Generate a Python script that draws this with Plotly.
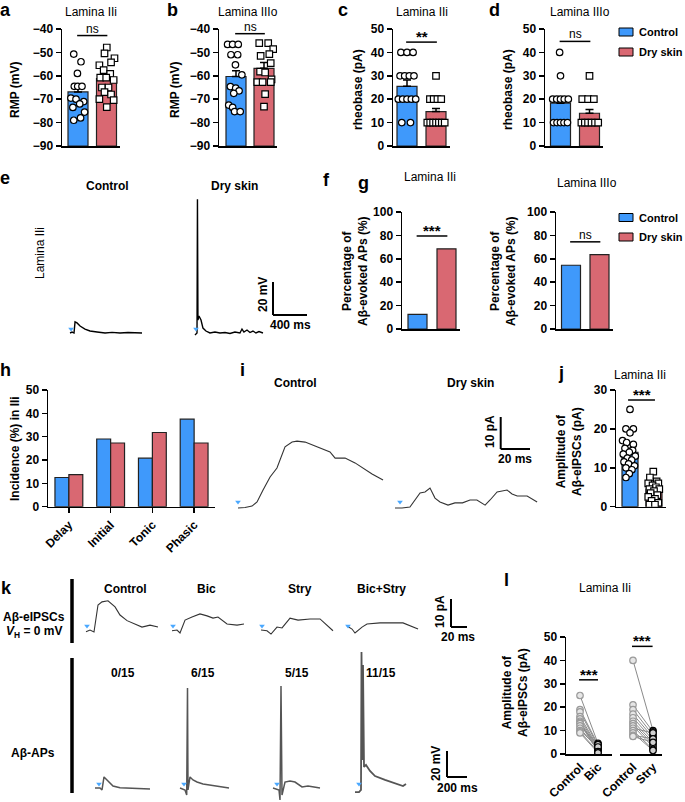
import plotly.graph_objects as go

FONT = "Liberation Sans, Arial, Helvetica, sans-serif"
W, H = 685, 802
BLUE, RED = "#3f99fb", "#d96872"
COLORS = [BLUE, RED]
EDGE = "#222222"

# ---------------- data ----------------
groups = ["Control", "Dry skin"]

# a: RMP lamina IIi
a_means = [-66.9, -61.2]
a_sem = [2.0, 2.0]
a_ctrl = [-50.7, -54, -59, -64.5, -64.5, -64.5, -69.5, -70, -71, -72, -73.5, -75.5, -78, -79]
a_ctrl_jit = [-0.15, 0.105, -0.02, -0.13, -0.01, 0.14, -0.25, -0.07, 0.2, 0.06, -0.18, 0.23, 0.09, -0.15]
a_dry = [-47.9, -50.4, -52.5, -54.3, -55.5, -57.6, -59.2, -60.8, -60.8, -61.8, -65, -65, -67, -68, -70, -70.4, -73.4]
a_dry_jit = [0.01, -0.07, 0.28, 0.16, -0.25, -0.1, 0.13, -0.22, -0.01, 0.25, -0.16, 0.07, -0.07, 0.16, -0.25, 0.25, 0.01]

# b: RMP lamina IIIo
b_means = [-60.3, -56.8]
b_sem = [2.5, 2.5]
b_ctrl = [-46.6, -46.6, -46.6, -51, -51, -55.3, -59.6, -64.6, -65.3, -66.4, -67.5, -72.5, -73.5, -75.3, -75.3]
b_ctrl_jit = [-0.3, -0.12, 0.08, -0.18, 0.06, -0.02, 0.21, -0.2, -0.01, 0.11, -0.08, -0.26, -0.12, -0.05, 0.15]
b_dry = [-46, -46, -48.6, -50.7, -51.5, -54.6, -58.2, -58.6, -61.5, -62.7, -62.7, -62.7, -67.8, -73.2]
b_dry_jit = [-0.17, 0.15, 0.33, 0.19, -0.12, 0.24, -0.14, 0.04, 0.27, -0.24, -0.05, 0.24, 0.04, 0]

# c: rheobase lamina IIi
c_means = [25.5, 14.7]
c_sem = [2.7, 1.3]
c_ctrl = [40, 40, 40, 30, 30, 30, 30, 20, 20, 20, 20, 20, 10, 10]
c_ctrl_jit = [-0.21, 0, 0.21, -0.24, -0.08, 0.08, 0.24, -0.3, -0.15, 0, 0.15, 0.3, -0.18, 0.12]
c_dry = [30, 20, 20, 20, 20, 10, 10, 10, 10, 10, 10, 10]
c_dry_jit = [0, -0.21, -0.08, 0.05, 0.18, -0.3, -0.2, -0.1, 0, 0.1, 0.2, 0.3]

# d: rheobase lamina IIIo
d_means = [18.3, 14.0]
d_sem = [1.7, 1.6]
d_ctrl = [40, 30, 20, 20, 20, 20, 20, 10, 10, 10, 10, 10]
d_ctrl_jit = [-0.03, 0, -0.27, -0.13, 0, 0.13, 0.27, -0.24, -0.12, 0, 0.12, 0.24]
d_dry = [30, 20, 20, 20, 10, 10, 10, 10, 10, 10]
d_dry_jit = [0, -0.25, -0.05, 0.15, -0.28, -0.16, -0.05, 0.07, 0.19, 0.3]

# f, g: percentage of Abeta-evoked APs
f_vals = [12.5, 68.5]
g_vals = [54.5, 63.5]

# h: firing patterns
h_cats = ["Delay", "Initial", "Tonic", "Phasic"]
h_ctrl = [12.5, 29.0, 20.8, 37.5]
h_dry = [13.7, 27.3, 31.8, 27.3]

# j: eIPSC amplitude
j_means = [14.0, 4.5]
j_sem = [1.0, 0.7]
j_ctrl = [25, 20, 20, 19, 17, 16.5, 16, 15, 14.5, 14, 13.5, 13, 12.5, 12, 11.5, 11, 10.5, 10, 9.5, 8.5, 7.5]
j_ctrl_jit = [0, -0.17, 0.14, 0, -0.31, -0.14, 0.14, -0.21, 0.11, -0.03, -0.28, 0.22, -0.11, 0.07, -0.25, -0.06, 0.19, -0.17, 0.08, -0.03, -0.17]
j_dry = [9, 7.5, 6.5, 6, 6, 5.5, 5, 4.5, 4.5, 4, 3.5, 3, 2.5, 2, 1.5, 1, 0.5, 0.5]
j_dry_jit = [-0.03, -0.17, 0.11, -0.24, 0.18, -0.06, 0.08, -0.19, 0.22, 0, -0.14, 0.14, -0.24, 0.04, -0.1, 0.18, -0.19, 0.04]

# l: paired eIPSC amplitudes
l_bic_ctrl = [25, 19, 18, 16, 15, 14, 13.5, 13, 12, 11, 10, 9.5, 9]
l_bic = [4.5, 4, 3.5, 3, 2.5, 2, 1.5, 1, 4, 2, 3, 1, 0.5]
l_stry_ctrl = [40, 21, 19, 17, 15.5, 14, 13, 12, 11, 10, 9, 8, 7.5]
l_stry = [10, 9.5, 8, 7, 6, 5, 4, 3, 9, 2, 1.5, 6.5, 5]
l_ticks_bic = ["Control", "Bic"]
l_ticks_stry = ["Control", "Stry"]

# e: Abeta-evoked responses (ms, mV relative to baseline)
e_ctrl_t = [0, 24, 47, 59, 82, 118, 176, 235, 318, 412, 494, 588, 682, 764, 847]
e_ctrl_v = [0, 0.6, 0, 6.7, 6.1, 4.2, 2.4, 1.2, 0.6, 0, 0.4, 0, 0.3, 0.3, 0]
e_dry_t = [0, 12, 24, 29, 35, 47, 71, 94, 129, 176, 235, 294, 353, 412, 470, 529, 553, 576, 612, 647, 682, 717, 753, 800]
e_dry_v = [-1.2, -0.6, 0, 81, 7.9, 10.3, 7.9, 3.0, 1.2, 0, 0.6, 0, 0.3, -0.3, 0.6, 0, 2.4, 0.6, 1.8, 0.3, 1.2, 0, 0.9, 0]

# i: eIPSCs (ms, pA)
i_ctrl_t = [0, 4.8, 9.6, 13, 17.1, 21.9, 26.6, 32.1, 36.9, 40.3, 45.8, 54.6, 62.8, 66.3, 73.1, 79.9, 85.4, 91.5, 99]
i_ctrl_v = [0, 0.16, 0.6, 1.9, 5.6, 9.7, 12.5, 19.1, 20.6, 20.9, 20.6, 19.1, 17.5, 15.6, 15.6, 14.1, 12.5, 10.6, 8.75]
i_dry_t = [0, 4.8, 10.2, 13.7, 17.1, 20.5, 23.9, 27.3, 30.7, 36.2, 40.9, 46.1, 51.2, 55.9, 61.5, 64.9, 69.7, 76.5, 79.9, 83.4, 90.2, 97]
i_dry_v = [0, 0, 0.3, 2.5, 4.7, 5.0, 6.25, 3.1, 1.9, 0.9, 1.6, 1.6, 2.5, 2.5, 0.9, 2.5, 5.0, 5.6, 4.4, 3.75, 3.75, 1.9]

# k: eIPSCs (ms, pA) and APs (ms, mV)
k_conditions = ["Control", "Bic", "Stry", "Bic+Stry"]
k_counts = ["0/15", "6/15", "5/15", "11/15"]
kc_ipsc_t = [0, 5, 10, 15, 20, 27.5, 36.3, 42.5, 51.3, 61.3, 70, 80, 90]
kc_ipsc_v = [-0.25, 0.36, -0.36, 9.3, 10.4, 10.8, 8.6, 5.7, 3.7, 2.5, 1.4, 2.1, 1.4]
kb_ipsc_t = [0, 6.25, 10, 16.3, 25, 35, 43.8, 51.3, 57.5, 68.8, 81.3, 90]
kb_ipsc_v = [0.1, 0.36, -0.7, 3.9, 5.0, 6.1, 5.4, 4.6, 5.0, 2.5, 2.1, 2.5]
ks_ipsc_t = [0, 7.5, 12.5, 20, 26.3, 36.3, 46.3, 61.3, 73.8, 82.5, 90]
ks_ipsc_v = [0.36, 0.1, -1.1, 1.4, 1.1, 4.6, 3.9, 4.3, 4.3, 2.1, 0.1]
kbs_ipsc_t = [0, 6.25, 10, 18.8, 25, 41.3, 57.5, 70, 88.8]
kbs_ipsc_v = [1.8, 0.7, -0.7, 1.4, 2.5, 2.9, 2.9, 2.9, 0.7]
kc_ap_t = [0, 50, 70, 90, 120, 150, 180, 250, 350, 450, 550]
kc_ap_v = [0, 0, -1.5, 8.5, 6.2, 3.8, 1.5, 0.2, 0, -0.4, -0.8]
kb_ap_t = [0, 50, 67, 75, 80, 100, 130, 170, 230, 300, 400, 490]
kb_ap_v = [0, -1.5, -5.4, 76.9, -1.5, 8.5, 6.2, 4.6, 3.1, 2.3, 1.2, 0]
ks_ap_t = [0, 60, 70, 80, 90, 120, 170, 220, 290, 350, 410, 470]
ks_ap_v = [0, -1.5, -9.2, 78.5, -5.4, 4.6, 5.4, 4.6, 0.8, 1.5, 0.8, 0]
kbs_ap_t = [0, 40, 60, 65, 75, 80, 90, 110, 150, 200, 300, 400, 480, 510]
kbs_ap_v = [-3.1, -3.1, -1.5, 104.6, 21.5, 94.6, 16.2, 17.7, 13.1, 9.2, 6.2, 3.8, 1.5, 3.1]

# ---------------- helpers ----------------
traces, shapes, anns = [], [], []
layout = {}
n_ax = [0]

TICKFONT = dict(family=FONT, size=12, color="black", weight="bold")
YAX = dict(visible=True, showline=True, linecolor="black", linewidth=1.5, ticks="outside",
           ticklen=5, tickwidth=1.5, tickcolor="black", showgrid=False, zeroline=False,
           tickfont=TICKFONT)
XLINE = dict(visible=True, showline=True, linecolor="black", linewidth=1.5, showticklabels=False,
             ticks="", showgrid=False, zeroline=False)


def new_axes(x0, x1, y0, y1, xr, yr, xkw=None, ykw=None):
    n_ax[0] += 1
    k = "" if n_ax[0] == 1 else str(n_ax[0])
    xa = dict(domain=[x0 / W, x1 / W], range=xr, anchor="y" + k, visible=False, fixedrange=True,
              automargin=False)
    ya = dict(domain=[1 - y1 / H, 1 - y0 / H], range=yr, anchor="x" + k, visible=False, fixedrange=True,
              automargin=False)
    xa.update(xkw or {})
    ya.update(ykw or {})
    layout["xaxis" + k] = xa
    layout["yaxis" + k] = ya
    return "x" + k, "y" + k


def text(x, y, s, size=12, bold=False, angle=0, xanchor="center", yanchor="middle"):
    anns.append(dict(x=x / W, y=1 - y / H, xref="paper", yref="paper", text=s, showarrow=False,
                     textangle=angle, xanchor=xanchor, yanchor=yanchor,
                     font=dict(family=FONT, size=size, color="black",
                               weight="bold" if bold else "normal")))


def sig(xa, ya, y, label, x0=-0.03, x1=1.03):
    shapes.append(dict(type="line", xref=xa, yref=ya, x0=x0, x1=x1, y0=y, y1=y,
                       line=dict(color="black", width=1.5)))
    star = "*" in label
    anns.append(dict(x=(x0 + x1) / 2, y=y, xref=xa, yref=ya, text=label, showarrow=False,
                     xanchor="center", yanchor="bottom", yshift=-5 if star else -2,
                     font=dict(family=FONT, size=15 if star else 12, color="black",
                               weight="bold" if star else "normal")))


def bar_panel(ax_px, c0, c1, end_px, top, bot, yr, dtick, bw_px, means, sems=None, pts=None):
    sp = c1 - c0
    xr = [-(c0 - ax_px) / sp, 1 + (end_px - c1) / sp]
    xa, ya = new_axes(ax_px, end_px, top, bot, xr, yr, XLINE, {**YAX, "tick0": yr[0], "dtick": dtick})
    for i, m in enumerate(means):
        traces.append(go.Bar(x=[i], y=[m - yr[0]], base=[yr[0]], width=bw_px / sp, name=groups[i],
                             marker=dict(color=COLORS[i], line=dict(color=EDGE, width=1.2)),
                             xaxis=xa, yaxis=ya, hoverinfo="skip"))
    if sems:
        traces.append(go.Scatter(x=[0, 1], y=means, mode="markers",
                                 marker=dict(size=2, color="rgba(0,0,0,0)"),
                                 error_y=dict(type="data", array=sems, arrayminus=[0, 0], symmetric=False,
                                              color="black", thickness=1.5, width=4),
                                 xaxis=xa, yaxis=ya, hoverinfo="skip"))
    if pts:
        for i, (vals, jit) in enumerate(pts):
            traces.append(go.Scatter(x=[i + j for j in jit], y=vals, mode="markers",
                                     marker=dict(symbol=["circle", "square"][i], size=6.5, color="white",
                                                 line=dict(color="black", width=1.2)),
                                     xaxis=xa, yaxis=ya, hoverinfo="skip"))
    return xa, ya


def trace_axes(x0, x1, y0, y1, oy, xs, ys):
    return new_axes(x0, x1, y0, y1, [0, (x1 - x0) * xs], [(oy - y1) * ys, (oy - y0) * ys])


def add_trace(xa, ya, t, v, t0, color="#222", width=1.2, stim=None):
    traces.append(go.Scatter(x=[t0 + tt for tt in t], y=v, mode="lines",
                             line=dict(color=color, width=width), xaxis=xa, yaxis=ya, hoverinfo="skip"))
    if stim:
        traces.append(go.Scatter(x=[t0 + stim[0]], y=[stim[1]], mode="markers",
                                 marker=dict(symbol="triangle-down", size=5, color="#4aa8ff"),
                                 xaxis=xa, yaxis=ya, hoverinfo="skip"))


def scalebar(xa, ya, x, y, dx, dy):
    shapes.append(dict(type="line", xref=xa, yref=ya, x0=x, x1=x, y0=y, y1=y + dy,
                       line=dict(color="black", width=2)))
    shapes.append(dict(type="line", xref=xa, yref=ya, x0=x, x1=x + dx, y0=y, y1=y,
                       line=dict(color="black", width=2)))


def legend(y1, y2):
    for yy, col, lab in [(y1, BLUE, groups[0]), (y2, RED, groups[1])]:
        shapes.append(dict(type="rect", xref="paper", yref="paper", x0=619 / W, x1=633 / W,
                           y0=1 - (yy + 4) / H, y1=1 - (yy - 4) / H, fillcolor=col,
                           line=dict(color="black", width=1)))
        text(637, yy, lab, 11, True, xanchor="left")


# ---------------- a-d ----------------
xa, ya = bar_panel(62, 78, 106.5, 120, 29, 146, [-90, -40], 10, 20, a_means, a_sem,
                   [(a_ctrl, a_ctrl_jit), (a_dry, a_dry_jit)])
sig(xa, ya, -42.8, "ns")
xa, ya = bar_panel(219, 236, 264, 277, 29, 146, [-90, -40], 10, 20, b_means, b_sem,
                   [(b_ctrl, b_ctrl_jit), (b_dry, b_dry_jit)])
sig(xa, ya, -42.0, "ns")
xa, ya = bar_panel(393, 407, 436, 450, 29, 146, [0, 50], 10, 20, c_means, c_sem,
                   [(c_ctrl, c_ctrl_jit), (c_dry, c_dry_jit)])
sig(xa, ya, 44.4, "**")
xa, ya = bar_panel(545, 560.5, 589.5, 603, 29, 146, [0, 50], 10, 20, d_means, d_sem,
                   [(d_ctrl, d_ctrl_jit), (d_dry, d_dry_jit)])
sig(xa, ya, 44.7, "ns")
legend(32, 52)

text(5, 10, "a", 18, True)
text(172, 10, "b", 18, True)
text(343, 10, "c", 18, True)
text(494, 10, "d", 18, True)
text(91, 12, "Lamina IIi")
text(248, 12, "Lamina IIIo")
text(422, 12, "Lamina IIi")
text(580, 12, "Lamina IIIo")
text(15, 90, "RMP (mV)", 12, True, -90)
text(175, 90, "RMP (mV)", 12, True, -90)
text(358, 90, "rheobase (pA)", 12, True, -90)
text(508, 90, "rheobase (pA)", 12, True, -90)

# ---------------- e ----------------
E_MS, E_MV = 400 / 34, 20 / 33
xa, ya = trace_axes(60, 320, 190, 345, 333, E_MS, E_MV)
add_trace(xa, ya, e_ctrl_t, e_ctrl_v, 118, "black", 1.4, (12, 4 * E_MV))
add_trace(xa, ya, e_dry_t, e_dry_v, 1588, "black", 1.4, (12, 4 * E_MV))
scalebar(xa, ya, 213 * E_MS, 18 * E_MV, 400, 20)
text(5, 178, "e", 18, True)
text(107, 186, "Control", 12, True)
text(234, 186, "Dry skin", 12, True)
text(40, 253, "Lamina IIi", 12, False, -90)
text(263, 295, "20 mV", 12, True, -90)
text(290, 325, "400 ms", 12, True)

# ---------------- f, g ----------------
xa, ya = bar_panel(402, 417.5, 446.5, 460, 212, 329, [0, 100], 20, 19, f_vals)
sig(xa, ya, 79.5, "***")
xa, ya = bar_panel(556, 571, 599.5, 613, 212, 329, [0, 100], 20, 19, g_vals)
sig(xa, ya, 74.5, "ns")
legend(217.5, 237)
text(326, 180, "f", 18, True)
text(363, 183, "g", 18, True)
text(430, 177, "Lamina IIi")
text(587, 183, "Lamina IIIo")
text(355, 271, "Percentage of<br>Aβ-evoked APs (%)", 12, True, -90)
text(503, 271, "Percentage of<br>Aβ-evoked APs (%)", 12, True, -90)

# ---------------- h ----------------
sp = 111 - 69
xa, ya = new_axes(48, 215, 390, 506.7, [-(69 - 48) / sp, 3 + (215 - 194) / sp], [0, 50],
                  dict(visible=True, showline=True, linecolor="black", linewidth=1.5, ticks="outside",
                       ticklen=5, tickwidth=1.5, tickcolor="black", tickvals=list(range(len(h_cats))),
                       ticktext=h_cats, tickangle=-45, tickfont=TICKFONT, showgrid=False, zeroline=False),
                  {**YAX, "tick0": 0, "dtick": 10})
bw = 14 / sp
traces.append(go.Bar(x=list(range(len(h_cats))), y=h_ctrl, width=bw, offset=-bw, name=groups[0],
                     marker=dict(color=BLUE, line=dict(color=EDGE, width=1.2)), xaxis=xa, yaxis=ya))
traces.append(go.Bar(x=list(range(len(h_cats))), y=h_dry, width=bw, offset=0, name=groups[1],
                     marker=dict(color=RED, line=dict(color=EDGE, width=1.2)), xaxis=xa, yaxis=ya))
text(5, 370, "h", 18, True)
text(15, 449, "Incidence (%) in IIi", 12, True, -90)

# ---------------- i ----------------
I_MS, I_PA = 20 / 29.3, 10 / 32
xa, ya = trace_axes(230, 545, 410, 515, 508, I_MS, I_PA)
add_trace(xa, ya, i_ctrl_t, i_ctrl_v, 8 * I_MS, "#333", 1.1, (0, 6 * I_PA))
add_trace(xa, ya, i_dry_t, i_dry_v, 165 * I_MS, "#333", 1.1, (5 * I_MS, 6 * I_PA))
scalebar(xa, ya, 270.7 * I_MS, 59 * I_PA, 20, 10)
text(242, 370, "i", 18, True)
text(295, 383, "Control", 12, True)
text(470, 383, "Dry skin", 12, True)
text(490, 432, "10 pA", 12, True, -90)
text(515, 459, "20 ms", 12, True)

# ---------------- j ----------------
xa, ya = bar_panel(616, 630, 654, 666, 390, 506.7, [0, 30], 10, 16, j_means, j_sem,
                   [(j_ctrl, j_ctrl_jit), (j_dry, j_dry_jit)])
sig(xa, ya, 27.4, "***", -0.08, 1.04)
text(561, 373, "j", 18, True)
text(640, 375, "Lamina IIi")
text(569, 452, "Amplitude of<br>Aβ-eIPSCs (pA)", 12, True, -90)

# ---------------- k ----------------
K_MS, K_PA = 20 / 16, 10 / 28
xa, ya = trace_axes(80, 480, 590, 645, 631, K_MS, K_PA)
for (t, v), st in zip([(kc_ipsc_t, kc_ipsc_v), (kb_ipsc_t, kb_ipsc_v), (ks_ipsc_t, ks_ipsc_v),
                       (kbs_ipsc_t, kbs_ipsc_v)], [6, 92, 181, 267]):
    add_trace(xa, ya, t, v, st * K_MS, "#333", 1.1, (1 * K_MS, 5 * K_PA))
scalebar(xa, ya, 371 * K_MS, 4 * K_PA, 20, 10)

A_MS, A_MV = 200 / 20, 20 / 26
xa, ya = trace_axes(80, 480, 645, 802, 788, A_MS, A_MV)
for (t, v), st, wdt in zip([(kc_ap_t, kc_ap_v), (kb_ap_t, kb_ap_v), (ks_ap_t, ks_ap_v),
                            (kbs_ap_t, kbs_ap_v)], [15, 100, 193, 275], [1.5, 1.5, 1.5, 1.8]):
    add_trace(xa, ya, t, v, st * A_MS, "#555", wdt, (40, 4 * A_MV))
scalebar(xa, ya, 367 * A_MS, 11 * A_MV, 200, 20)

for x0, y0, y1 in [(72, 579, 643), (72, 658, 793)]:
    shapes.append(dict(type="line", xref="paper", yref="paper", x0=x0 / W, x1=x0 / W,
                       y0=1 - y0 / H, y1=1 - y1 / H, line=dict(color="black", width=3.5)))
text(6, 588, "k", 18, True)
for cx, lab, cnt in zip([126, 206, 300, 381], k_conditions, k_counts):
    text(cx, 589, lab, 12, True)
    text(cx - 3 if lab != "Bic+Stry" else cx, 673, cnt, 12, True)
text(34, 617, "Aβ-eIPSCs", 12, True)
text(34, 632, "<i>V</i><sub>H</sub> = 0 mV", 12, True)
text(33, 753, "Aβ-APs", 12, True)
text(440, 612, "10 pA", 12, True, -90)
text(458, 637, "20 ms", 12, True)
text(436, 764, "20 mV", 12, True, -90)
text(457, 788, "200 ms", 12, True)

# ---------------- l ----------------
LX = dict(visible=True, showline=True, linecolor="black", linewidth=1.5, ticks="", tickvals=[0, 1],
          tickangle=-45, tickfont=TICKFONT, showgrid=False, zeroline=False, automargin=False)
sp1 = 598 - 580
xa, ya = new_axes(566, 612, 637, 754, [-(580 - 566) / sp1, 1 + (612 - 598) / sp1], [0, 50],
                  {**LX, "ticktext": l_ticks_bic}, {**YAX, "tick0": 0, "dtick": 10})
n_ax[0] += 1
k2 = str(n_ax[0])
sp2 = 653 - 633
layout["xaxis" + k2] = dict(domain=[620 / W, 662 / W], range=[-(633 - 620) / sp2, 1 + (662 - 653) / sp2],
                            anchor=ya, fixedrange=True, **{**LX, "ticktext": l_ticks_stry})
xb = "x" + k2

for xax, c_vals, d_vals in [(xa, l_bic_ctrl, l_bic), (xb, l_stry_ctrl, l_stry)]:
    lx, ly = [], []
    for c, d in zip(c_vals, d_vals):
        lx += [0, 1, None]
        ly += [c, d, None]
    traces.append(go.Scatter(x=lx, y=ly, mode="lines", line=dict(color="#8a8a8a", width=1),
                             xaxis=xax, yaxis=ya, hoverinfo="skip"))
    traces.append(go.Scatter(x=[0] * len(c_vals), y=c_vals, mode="markers",
                             marker=dict(symbol="circle", size=6.5, color="#e6e6e6",
                                         line=dict(color="#9a9a9a", width=1.2)),
                             xaxis=xax, yaxis=ya, hoverinfo="skip"))
    traces.append(go.Scatter(x=[1] * len(d_vals), y=d_vals, mode="markers",
                             marker=dict(symbol="circle", size=6.5, color="#d0d0d0",
                                         line=dict(color="black", width=1.2)),
                             xaxis=xax, yaxis=ya, hoverinfo="skip"))
sig(xa, ya, 31.7, "***", -0.05, 1.0)
sig(xb, ya, 46.0, "***", -0.05, 0.98)
text(506, 580, "l", 18, True)
text(605, 588, "Lamina IIi")
text(515, 693, "Amplitude of<br>Aβ-eIPSCs (pA)", 12, True, -90)

# ---------------- figure ----------------
fig = go.Figure(data=traces)
fig.update_layout(width=W, height=H, margin=dict(l=0, r=0, t=0, b=0, autoexpand=False),
                  paper_bgcolor="white", plot_bgcolor="rgba(0,0,0,0)", showlegend=False,
                  barmode="overlay", font=dict(family=FONT, size=12, color="black"),
                  shapes=shapes, annotations=anns, **layout)
fig.write_html("out.html", config={"displayModeBar": False, "staticPlot": True},
               post_script="document.body.style.margin='0';document.body.style.overflow='hidden';")
